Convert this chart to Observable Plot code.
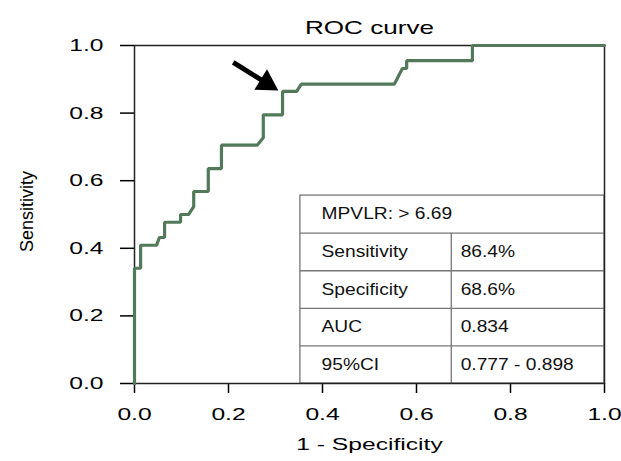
<!DOCTYPE html>
<html><head><meta charset="utf-8">
<script src="https://cdn.jsdelivr.net/npm/d3@7"></script>
<script src="https://cdn.jsdelivr.net/npm/@observablehq/plot@0.6"></script>
<style>body{margin:0;background:#fff;}</style>
</head><body><div id="chart"></div>
<script>
// ---- data ----
const fpr = [0,0,0.013,0.013,0.047,0.053,0.064,0.064,0.098,0.098,0.115,0.126,0.126,0.157,0.157,0.185,0.185,0.261,0.274,0.274,0.315,0.315,0.345,0.355,0.553,0.570,0.579,0.579,0.719,0.719,1];
const tpr = [0,0.341,0.341,0.409,0.409,0.432,0.432,0.477,0.477,0.500,0.500,0.523,0.568,0.568,0.636,0.636,0.705,0.705,0.727,0.795,0.795,0.864,0.864,0.886,0.886,0.932,0.932,0.955,0.955,1,1];
const xTicks = [0, 0.2, 0.4, 0.6, 0.8, 1.0];
const yTicks = [0, 0.2, 0.4, 0.6, 0.8, 1.0];
const titleText = "ROC curve";
const xLabel = "1 - Specificity";
const yLabel = "Sensitivity";
const cutoffLabel = "MPVLR: > 6.69";
const statNames = ["Sensitivity", "Specificity", "AUC", "95%CI"];
const statValues = ["86.4%", "68.6%", "0.834", "0.777 - 0.898"];
const arrowTail = {x: 0.21, y: 0.95};
const arrowTip = {x: 0.306, y: 0.867};

// ---- layout ----
const W = 621, H = 461, mL = 134, mR = 17, mT = 45, mB = 78;
const pxX = W - mL - mR, pxY = H - mT - mB;
const font = "'Liberation Sans', Arial, Helvetica, sans-serif";

const roc = fpr.map((x, i) => ({x, y: tpr[i]}));

// table geometry (in data units)
const tLeft = 0.353, tTop = 0.556, tDiv = 0.674, nRows = 5, rowH = tTop / nRows;
const rowLines = d3.range(1, nRows).map(k => ({y: tTop - k * rowH}));
const rowCenter = k => tTop - (k + 0.5) * rowH;
const tableText = [{x: tLeft + 0.045, y: rowCenter(0), t: cutoffLabel}]
  .concat(statNames.map((t, i) => ({x: tLeft + 0.045, y: rowCenter(i + 1), t})))
  .concat(statValues.map((t, i) => ({x: tDiv + 0.02, y: rowCenter(i + 1), t})));

// arrow geometry
const dxp = (arrowTip.x - arrowTail.x) * pxX;
const dyp = -(arrowTip.y - arrowTail.y) * pxY;
const arrowLen = Math.hypot(dxp, dyp);
const headR = 8.9;
const headSide = Math.sqrt(Math.PI * headR * headR / (Math.sqrt(3) / 4));
const headCenterDist = (2 / 3) * headSide * Math.sqrt(3) / 2;
const f = headCenterDist / arrowLen;
const head = {x: arrowTip.x - f * (arrowTip.x - arrowTail.x), y: arrowTip.y - f * (arrowTip.y - arrowTail.y)};
const headAngle = Math.atan2(dxp, -dyp) * 180 / Math.PI;

const chart = Plot.plot({
  width: W, height: H,
  marginLeft: mL, marginRight: mR, marginTop: mT, marginBottom: mB,
  style: {fontFamily: font, fontSize: "17px", color: "black", background: "white"},
  x: {domain: [0, 1]},
  y: {domain: [0, 1]},
  marks: [
    Plot.axisX({ticks: xTicks, tickSize: 10, tickPadding: 14, tickFormat: d3.format(".1f"), fontSize: 17, label: null, strokeWidth: 1.5}),
    Plot.axisY({ticks: yTicks, tickSize: 14, tickPadding: 17, tickFormat: d3.format(".1f"), fontSize: 17, label: null, strokeWidth: 1.5}),
    // table
    Plot.rect([{x1: tLeft, x2: 1, y1: 0, y2: tTop}], {x1: "x1", x2: "x2", y1: "y1", y2: "y2", fill: "white", stroke: "#777", strokeWidth: 1.3}),
    Plot.ruleY(rowLines, {y: "y", x1: () => tLeft, x2: () => 1, stroke: "#777", strokeWidth: 1.3}),
    Plot.ruleX([{x: tDiv}], {x: "x", y1: () => 0, y2: () => rowLines[0].y, stroke: "#777", strokeWidth: 1.3}),
    Plot.text(tableText, {x: "x", y: "y", text: "t", textAnchor: "start", fontSize: 16, fill: "#111"}),
    Plot.frame({stroke: "#222", strokeWidth: 1.5}),
    // ROC curve
    Plot.line(roc, {x: "x", y: "y", stroke: "#527a5a", strokeWidth: 3.2, strokeLinejoin: "miter"}),
    // arrow
    Plot.link([{x1: arrowTail.x, y1: arrowTail.y, x2: head.x, y2: head.y}], {x1: "x1", y1: "y1", x2: "x2", y2: "y2", stroke: "black", strokeWidth: 5}),
    Plot.dot([head], {x: "x", y: "y", symbol: "triangle", r: headR, fill: "black", stroke: "none", rotate: headAngle}),
    // titles
    Plot.text([titleText], {frameAnchor: "top", dy: -24, fontSize: 18}),
    Plot.text([xLabel], {frameAnchor: "bottom", dy: 66, fontSize: 17}),
    Plot.text([yLabel], {frameAnchor: "left", textAnchor: "middle", dx: -107, dy: -3, rotate: -90, fontSize: 18})
  ]
});

// horizontal stretch of the text, as in the reference
const tableSet = new Set([cutoffLabel, ...statNames, ...statValues]);
chart.querySelectorAll("text").forEach(t => {
  const tr = t.getAttribute("transform") || "";
  if (tr.includes("rotate")) return;
  const g = t.closest("g[text-anchor]");
  const isTable = tableSet.has(t.textContent) && g && g.getAttribute("text-anchor") === "start";
  const s = isTable ? 1.2 : 1.45;
  t.setAttribute("transform", tr + ` scale(${s},1)`);
});

document.getElementById("chart").appendChild(chart);
</script>
</body></html>
